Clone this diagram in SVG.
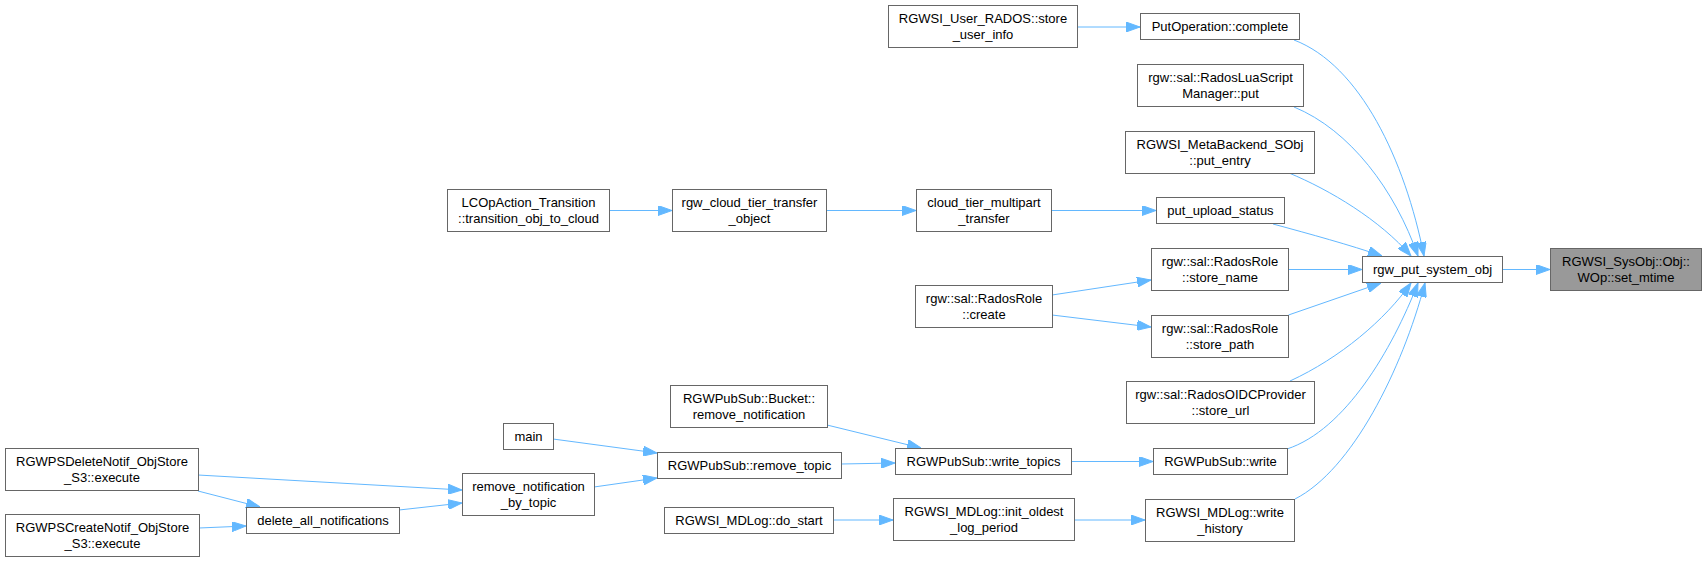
<svg xmlns="http://www.w3.org/2000/svg" width="1707" height="563" viewBox="0 0 1707 563">
<style>
.n rect{fill:#ffffff;stroke:#666666;stroke-width:1}
.n.hl rect{fill:#999999}
.n text{font-family:"Liberation Sans",Arial,sans-serif;font-size:13px;fill:#000000;text-anchor:middle}
.e path{fill:none;stroke:#63B8FF;stroke-width:1;marker-end:url(#ah)}
</style>
<defs>
<marker id="ah" viewBox="0 0 14 10" refX="14" refY="5" markerWidth="14" markerHeight="10" markerUnits="userSpaceOnUse" orient="auto">
<path d="M0,0 L14,5 L0,10 z" fill="#63B8FF" stroke="#63B8FF"/>
</marker>
</defs>
<rect width="1707" height="563" fill="#ffffff"/>
<g id="edges" class="e">
<path d="M1503,269.5 L1550,269.5"/>
<path d="M1294,40 C1360,65 1405,160 1424,256"/>
<path d="M1294,107 C1350,130 1395,190 1418,256"/>
<path d="M1289,173 C1330,190 1380,220 1411,256"/>
<path d="M1273,224 C1310,234 1350,245 1382,256"/>
<path d="M1288.5,269.5 L1362,269.5"/>
<path d="M1288.5,315 L1381,283"/>
<path d="M1290,381 C1340,358 1385,320 1411,283"/>
<path d="M1287,449 C1345,430 1392,350 1418,283"/>
<path d="M1295,499 C1352,470 1402,370 1425,283"/>
<path d="M1078,27 L1140,27"/>
<path d="M610,210.5 L672,210.5"/>
<path d="M826,210.5 L916,210.5"/>
<path d="M1051,210.5 L1156,210.5"/>
<path d="M1052,295 L1151,280"/>
<path d="M1052,315 L1151,327"/>
<path d="M827,425 L921,448"/>
<path d="M841,464 L895,463"/>
<path d="M1071,461.5 L1153,461.5"/>
<path d="M833,520 L893,520"/>
<path d="M1074,520 L1145,520"/>
<path d="M553,439 L657,453"/>
<path d="M594,487 L657,478"/>
<path d="M198,475 L462,490"/>
<path d="M198,491 L260,507"/>
<path d="M199,528 L246,526"/>
<path d="M399,510 L462,503"/>
</g>
<g id="set_mtime" class="n hl"><rect x="1550.5" y="248.5" width="151" height="42"/><text x="1626" y="266">RGWSI_SysObj::Obj::</text><text x="1626" y="282">WOp::set_mtime</text></g>
<g id="rgw_put_system_obj" class="n"><rect x="1362.5" y="256.5" width="140" height="26"/><text x="1432.5" y="274">rgw_put_system_obj</text></g>
<g id="PutOperation_complete" class="n"><rect x="1140.5" y="13.5" width="159" height="26"/><text x="1220" y="31">PutOperation::complete</text></g>
<g id="store_user_info" class="n"><rect x="888.5" y="5.5" width="189" height="42"/><text x="983" y="23">RGWSI_User_RADOS::store</text><text x="983" y="39">_user_info</text></g>
<g id="RadosLuaScriptManager_put" class="n"><rect x="1137.5" y="64.5" width="166" height="42"/><text x="1220.5" y="82">rgw::sal::RadosLuaScript</text><text x="1220.5" y="98">Manager::put</text></g>
<g id="MetaBackend_put_entry" class="n"><rect x="1125.5" y="131.5" width="189" height="42"/><text x="1220" y="149">RGWSI_MetaBackend_SObj</text><text x="1220" y="165">::put_entry</text></g>
<g id="put_upload_status" class="n"><rect x="1156.5" y="197.5" width="128" height="26"/><text x="1220.5" y="215">put_upload_status</text></g>
<g id="cloud_tier_multipart_transfer" class="n"><rect x="916.5" y="189.5" width="135" height="42"/><text x="984" y="207">cloud_tier_multipart</text><text x="984" y="223">_transfer</text></g>
<g id="rgw_cloud_tier_transfer_object" class="n"><rect x="672.5" y="189.5" width="154" height="42"/><text x="749.5" y="207">rgw_cloud_tier_transfer</text><text x="749.5" y="223">_object</text></g>
<g id="LCOpAction_Transition" class="n"><rect x="447.5" y="189.5" width="162" height="42"/><text x="528.5" y="207">LCOpAction_Transition</text><text x="528.5" y="223">::transition_obj_to_cloud</text></g>
<g id="RadosRole_store_name" class="n"><rect x="1151.5" y="248.5" width="137" height="42"/><text x="1220" y="266">rgw::sal::RadosRole</text><text x="1220" y="282">::store_name</text></g>
<g id="RadosRole_create" class="n"><rect x="915.5" y="285.5" width="137" height="42"/><text x="984" y="303">rgw::sal::RadosRole</text><text x="984" y="319">::create</text></g>
<g id="RadosRole_store_path" class="n"><rect x="1151.5" y="315.5" width="137" height="42"/><text x="1220" y="333">rgw::sal::RadosRole</text><text x="1220" y="349">::store_path</text></g>
<g id="RadosOIDCProvider_store_url" class="n"><rect x="1126.5" y="381.5" width="188" height="42"/><text x="1220.5" y="399">rgw::sal::RadosOIDCProvider</text><text x="1220.5" y="415">::store_url</text></g>
<g id="RGWPubSub_write" class="n"><rect x="1153.5" y="448.5" width="134" height="26"/><text x="1220.5" y="466">RGWPubSub::write</text></g>
<g id="RGWSI_MDLog_write_history" class="n"><rect x="1145.5" y="499.5" width="149" height="42"/><text x="1220" y="517">RGWSI_MDLog::write</text><text x="1220" y="533">_history</text></g>
<g id="RGWPubSub_write_topics" class="n"><rect x="895.5" y="448.5" width="176" height="26"/><text x="983.5" y="466">RGWPubSub::write_topics</text></g>
<g id="RGWSI_MDLog_init_oldest_log_period" class="n"><rect x="893.5" y="498.5" width="181" height="42"/><text x="984" y="516">RGWSI_MDLog::init_oldest</text><text x="984" y="532">_log_period</text></g>
<g id="Bucket_remove_notification" class="n"><rect x="670.5" y="385.5" width="157" height="42"/><text x="749" y="403">RGWPubSub::Bucket::</text><text x="749" y="419">remove_notification</text></g>
<g id="RGWPubSub_remove_topic" class="n"><rect x="657.5" y="452.5" width="184" height="26"/><text x="749.5" y="470">RGWPubSub::remove_topic</text></g>
<g id="RGWSI_MDLog_do_start" class="n"><rect x="664.5" y="507.5" width="169" height="26"/><text x="749" y="525">RGWSI_MDLog::do_start</text></g>
<g id="main" class="n"><rect x="503.5" y="423.5" width="50" height="26"/><text x="528.5" y="441">main</text></g>
<g id="remove_notification_by_topic" class="n"><rect x="462.5" y="473.5" width="132" height="42"/><text x="528.5" y="491">remove_notification</text><text x="528.5" y="507">_by_topic</text></g>
<g id="RGWPSDeleteNotif_execute" class="n"><rect x="5.5" y="448.5" width="193" height="42"/><text x="102" y="466">RGWPSDeleteNotif_ObjStore</text><text x="102" y="482">_S3::execute</text></g>
<g id="RGWPSCreateNotif_execute" class="n"><rect x="5.5" y="514.5" width="194" height="42"/><text x="102.5" y="532">RGWPSCreateNotif_ObjStore</text><text x="102.5" y="548">_S3::execute</text></g>
<g id="delete_all_notifications" class="n"><rect x="246.5" y="507.5" width="153" height="26"/><text x="323" y="525">delete_all_notifications</text></g>
</svg>
